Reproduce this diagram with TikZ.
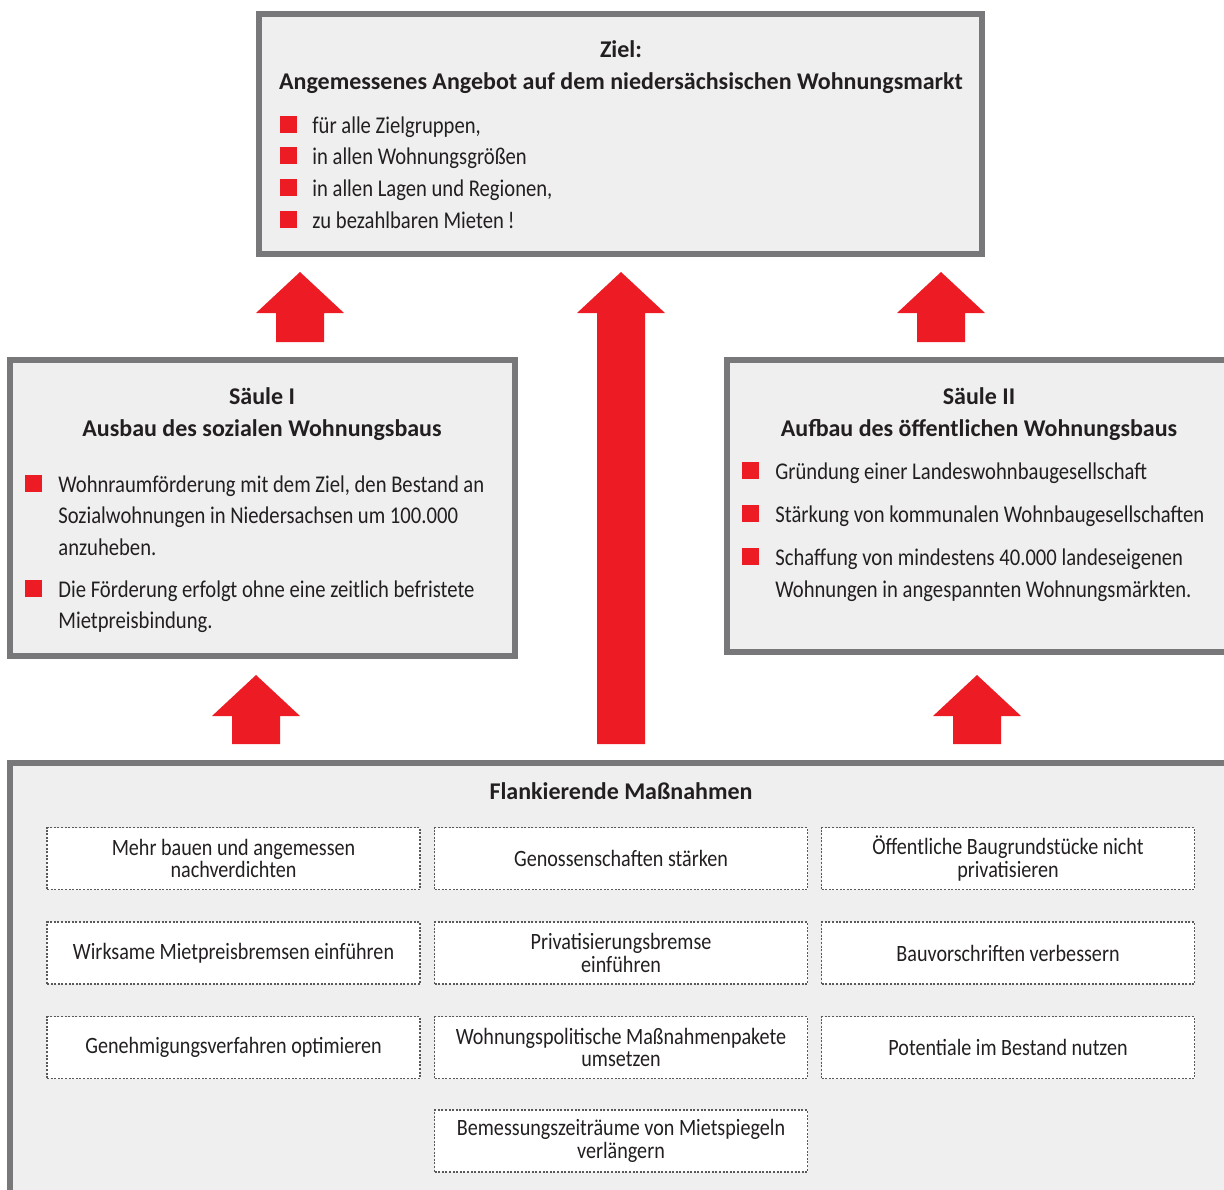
\documentclass[tikz,border=0pt]{standalone}
\usepackage{fontspec}
\setmainfont{Carlito}[FakeStretch=0.86,BoldFeatures={FakeStretch=1.0}]
\usetikzlibrary{positioning,calc}
\definecolor{frame}{HTML}{78787B}
\definecolor{panel}{HTML}{EFEFEF}
\definecolor{signal}{HTML}{ED1C24}
\definecolor{ink}{HTML}{231F20}
\tikzset{
  pillar/.style ={draw=frame,line width=3pt,fill=panel,inner sep=0pt},
  head/.style   ={font=\fontsize{12}{16}\selectfont\bfseries,align=center,inner sep=0pt,text=ink},
  item/.style   ={anchor=base west,align=left,inner sep=0pt,text=ink,
                  font=\fontsize{12}{15.75}\selectfont},
  sq/.style     ={fill=signal,minimum size=8.5pt,inner sep=0pt,anchor=south west},
  measure/.style={draw=black!65,dash pattern=on 1pt off 0.8pt,line width=0.6pt,fill=white,
                  minimum width=186.5pt,minimum height=31pt,align=center,inner sep=1pt,
                  text=ink,font=\fontsize{11.7}{11.4}\selectfont},
  lift/.style   ={fill=signal},
}
% block arrow from tail coordinate to tip coordinate (same x)
\newcommand{\liftarrow}[2]{%
  \fill[lift] ($(#1)+(-24,0)$) -- ($(#2)+(-24,41)$) -- ($(#2)+(-44,41)$) -- (#2)
    -- ($(#2)+(44,41)$) -- ($(#2)+(24,41)$) -- ($(#1)+(24,0)$) -- cycle;}
\begin{document}
\begin{tikzpicture}[x=0.5pt,y=-0.5pt]
  \useasboundingbox (0,0) rectangle (1224,1189);
  \clip (0,0) rectangle (1224,1189);

  % goal (multi-line nodes sit on the baseline of their last line)
  \node[pillar,minimum width=361.5pt,minimum height=120pt] (zielbox) at (620.5,134) {};
  \node[head,anchor=base] (zielhead) at (621,89)
    {Ziel:\\Angemessenes Angebot auf dem niedersächsischen Wohnungsmarkt};
  \foreach \txt/\yy [count=\i] in {{für alle Zielgruppen,}/133,{in allen Wohnungsgrößen}/164.5,
      {in allen Lagen und Regionen,}/196,{zu bezahlbaren Mieten\,!}/228}{
    \node[sq] (zq\i) at (280,\yy) {};
    \node[item] (zt\i) at (312,\yy) {\txt};
  }

  % pillar I
  \node[pillar,minimum width=252.5pt,minimum height=148pt] (saeule1) at (262.5,508) {};
  \node[head,anchor=base] (s1head) at (262,436) {Säule I\\Ausbau des sozialen Wohnungsbaus};
  \node[sq] (s1q1) at (25,492) {};
  \node[item] (s1t1) at (58,555)
    {Wohnraumförderung mit dem Ziel, den Bestand an\\Sozialwohnungen in Niedersachsen um 100.000\\anzuheben.};
  \node[sq] (s1q2) at (25,597) {};
  \node[item] (s1t2) at (58,628.5)
    {Die Förderung erfolgt ohne eine zeitlich befristete\\Mietpreisbindung.};

  % pillar II
  \node[pillar,minimum width=256.5pt,minimum height=146pt] (saeule2) at (983.5,506) {};
  \node[head,anchor=base] (s2head) at (979,436) {Säule II\\Aufbau des öffentlichen Wohnungsbaus};
  \node[sq] (s2q1) at (742,479) {};
  \node[item] (s2t1) at (775,479) {Gründung einer Landeswohnbaugesellschaft};
  \node[sq] (s2q2) at (742,522) {};
  \node[item] (s2t2) at (775,522) {Stärkung von kommunalen Wohnbaugesellschaften};
  \node[sq] (s2q3) at (742,565) {};
  \node[item] (s2t3) at (775,597)
    {Schaffung von mindestens 40.000 landeseigenen\\Wohnungen in angespannten Wohnungsmärkten.};

  % flanking measures
  \node[pillar,minimum width=615pt,minimum height=223.5pt] (flank) at (625,986.5) {};
  \node[head,anchor=base] (flankhead) at (621,799) {Flankierende Maßnahmen};
  \node[measure] (m11) at (233.5,858.5) {Mehr bauen und angemessen\\nachverdichten};
  \node[measure] (m12) at (621,858.5) {Genossenschaften stärken};
  \node[measure] (m13) at (1008,858.5) {Öffentliche Baugrundstücke nicht\\privatisieren};
  \node[measure] (m21) at (233.5,953) {Wirksame Mietpreisbremsen einführen};
  \node[measure] (m22) at (621,953) {Privatisierungsbremse\\einführen};
  \node[measure] (m23) at (1008,953) {Bauvorschriften verbessern};
  \node[measure] (m31) at (233.5,1047.5) {Genehmigungsverfahren optimieren};
  \node[measure] (m32) at (621,1047.5) {Wohnungspolitische Maßnahmenpakete\\umsetzen};
  \node[measure] (m33) at (1008,1047.5) {Potentiale im Bestand nutzen};
  \node[measure] (m42) at (621,1141) {Bemessungszeiträume von Mietspiegeln\\verlängern};

  % arrows
  \coordinate (a1) at (300,342); \coordinate (a1tip) at (300,272);
  \coordinate (a2) at (621,744); \coordinate (a2tip) at (621,272);
  \coordinate (a3) at (941,342); \coordinate (a3tip) at (941,272);
  \coordinate (b1) at (256,744); \coordinate (b1tip) at (256,675);
  \coordinate (b2) at (977,744); \coordinate (b2tip) at (977,675);
  \liftarrow{a1}{a1tip}
  \liftarrow{a2}{a2tip}
  \liftarrow{a3}{a3tip}
  \liftarrow{b1}{b1tip}
  \liftarrow{b2}{b2tip}
\end{tikzpicture}
\end{document}
